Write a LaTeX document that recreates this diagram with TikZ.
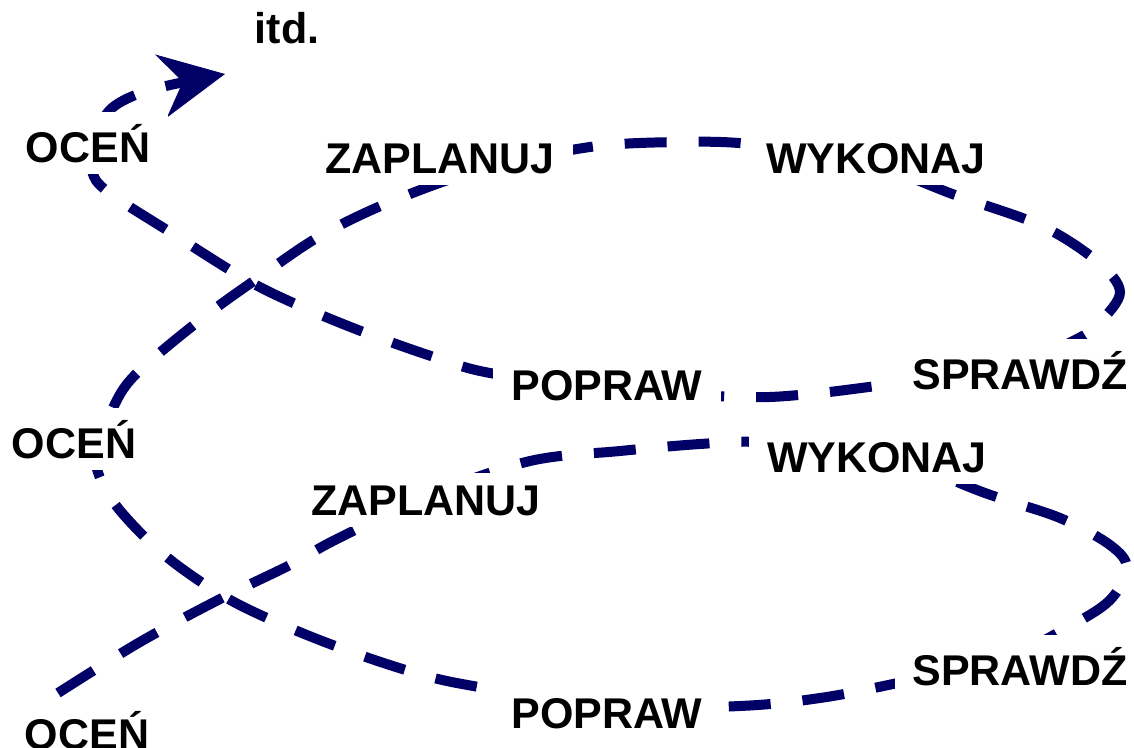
\documentclass[tikz,border=0pt]{standalone}
\usepackage{fontspec}
\setmainfont{Liberation Sans}
\usetikzlibrary{arrows.meta}
\definecolor{navyline}{RGB}{0,0,102}

\begin{document}
\begin{tikzpicture}[x=1pt, y=-1pt,
  loopline/.style={navyline, line width=10pt, dash pattern=on 42pt off 32pt},
  word/.style={fill=white, anchor=base, inner xsep=18pt, inner ysep=12pt,
    font=\bfseries\fontsize{43}{50}\selectfont}]
\useasboundingbox (0,0) rectangle (1134,747);
% the spiral first, the words cover it
\draw[loopline, -{Stealth[length=65pt, width=64pt, inset=22pt, line width=1pt]}]
  plot[smooth, tension=0.55] coordinates {
  (58,693) (140,642) (222,598) (290,565) (335,540) (430,495)
  (530,461) (620,451) (700,444) (760,442) (870,450)
  (985,493) (1060,518) (1110,545) (1127,568) (1110,600) (1070,626)
  (1000,660) (893,684) (820,698) (740,706) (600,708)
  (490,689) (430,677) (360,655) (290,628) (225,597) (162,553) (112,500)
  (95,455) (112,410) (135,375) (200,320) (258,278) (320,236) (390,202)
  (480,170) (590,147) (680,142) (750,144) (860,160)
  (955,195) (1042,226) (1098,262) (1120,292) (1100,322) (1075,340)
  (1000,372) (893,384) (810,394) (740,397) (600,388)
  (490,373) (437,358) (366,333) (300,306) (245,279) (170,232) (108,192)
  (92,170) (97,135) (112,108) (150,90) (225,74)};
%\draw[red] (0,0) grid[step=50] (1134,747);
\node[word] (itd)   at (287,43)  {itd.};
\node[word] (ocen1) at (88,162)  {OCEŃ};
\node[word] (zap1)  at (440,173) {ZAPLANUJ};
\node[word] (wyk1)  at (876,173) {WYKONAJ};
\node[word] (spr1)  at (1020,389) {SPRAWDŹ};
\node[word] (pop1)  at (607,400) {POPRAW};
\node[word] (ocen2) at (74,458)  {OCEŃ};
\node[word] (zap2)  at (426,515) {ZAPLANUJ};
\node[word] (wyk2)  at (877,472) {WYKONAJ};
\node[word] (spr2)  at (1020,685) {SPRAWDŹ};
\node[word] (pop2)  at (607,728) {POPRAW};
\node[word] (ocen3) at (87,749)  {OCEŃ};
\end{tikzpicture}
\end{document}
